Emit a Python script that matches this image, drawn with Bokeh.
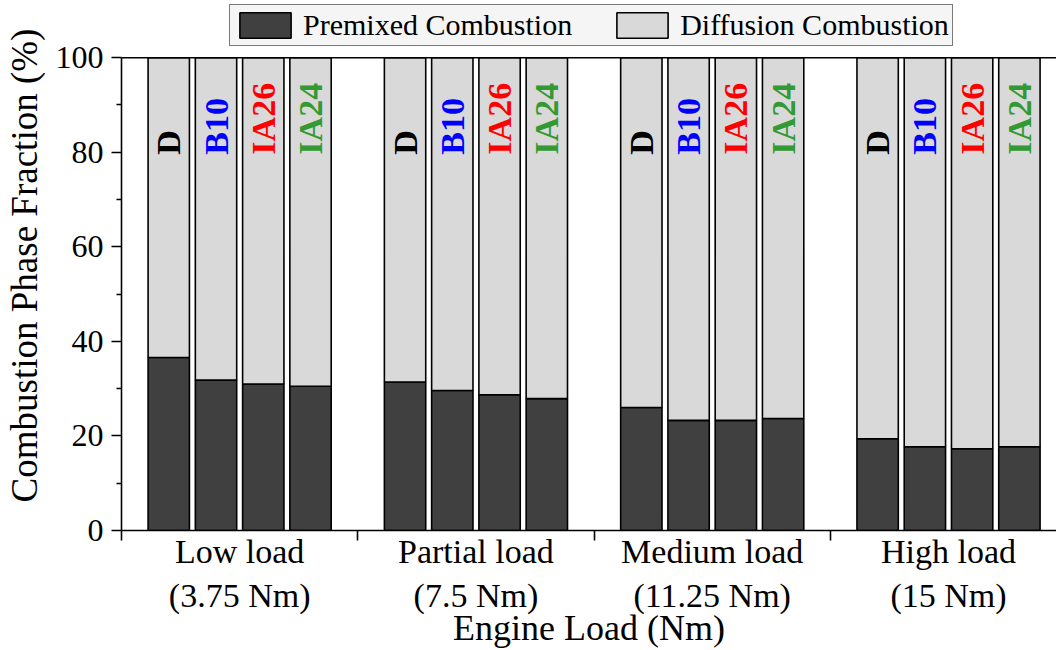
from bokeh.plotting import figure
from bokeh.models import (ColumnDataSource, FixedTicker, Legend, LegendItem, Span, Range1d)
from bokeh.core.properties import value
from bokeh.embed import file_html
from bokeh.resources import INLINE

# ---- data ----
loads = ["Low load\n(3.75 Nm)", "Partial load\n(7.5 Nm)", "Medium load\n(11.25 Nm)", "High load\n(15 Nm)"]
fuels = ["D", "B10", "IA26", "IA24"]
fuel_colors = ["#000000", "#0000ff", "#ff0000", "#339933"]
premixed = {
    "D":    [36.6, 31.4, 26.0, 19.4],
    "B10":  [31.8, 29.6, 23.3, 17.7],
    "IA26": [31.0, 28.7, 23.3, 17.3],
    "IA24": [30.5, 27.9, 23.7, 17.7],
}
diffusion = {
    "D":    [63.4, 68.6, 74.0, 80.6],
    "B10":  [68.2, 70.4, 76.7, 82.3],
    "IA26": [69.0, 71.3, 76.7, 82.7],
    "IA24": [69.5, 72.1, 76.3, 82.3],
}
label_level = 79.5
yticks = [0, 20, 40, 60, 80, 100]
yminor = [10, 30, 50, 70, 90]

FONT = "Liberation Serif"
DARK = "#404040"
LIGHT = "#d9d9d9"

group_pos = [1, 2, 3, 4]
offsets = [-0.3, -0.1, 0.1, 0.3]
bar_w = 0.175

p = figure(width=1056, height=650, output_backend="svg", toolbar_location=None,
           x_range=Range1d(0.5, 4.457), y_range=Range1d(0, 112.1),
           min_border_left=10, min_border_right=0, min_border_top=0, min_border_bottom=10)
p.grid.visible = False
p.outline_line_color = None
p.background_fill_color = "white"
p.border_fill_color = "white"

r_pre = r_dif = None
for fuel, off, col in zip(fuels, offsets, fuel_colors):
    xs = [g + off for g in group_pos]
    src = ColumnDataSource(dict(x=xs, pre=premixed[fuel], dif=diffusion[fuel],
                                lab=[fuel] * len(xs), ly=[label_level] * len(xs)))
    rs = p.vbar_stack(["pre", "dif"], x="x", width=bar_w, source=src,
                      fill_color=[DARK, LIGHT], line_color="black", line_width=1.6)
    r_pre, r_dif = rs
    p.text(x="x", y="ly", text="lab", source=src, angle=1.5708,
           text_font=value(FONT), text_font_style="bold", text_font_size="34px",
           text_color=col, text_align="left", text_baseline="middle")

# top frame line
p.add_layout(Span(location=100, dimension="width", line_color="black", line_width=1.6))

# y axis
ya = p.yaxis[0]
ya.bounds = (0, 100)
ya.ticker = FixedTicker(ticks=yticks, minor_ticks=yminor)
ya.axis_label = "Combustion Phase Fraction (%)"
ya.axis_label_text_font = FONT
ya.axis_label_text_font_style = "normal"
ya.axis_label_text_font_size = "37px"
ya.axis_label_text_color = "black"
ya.axis_label_standoff = 8
ya.major_label_text_font = FONT
ya.major_label_text_font_size = "32px"
ya.major_label_text_color = "black"
ya.major_label_standoff = 8
ya.major_tick_out = 10
ya.major_tick_in = 0
ya.minor_tick_out = 5
ya.minor_tick_in = 0
ya.axis_line_width = 1.6
ya.major_tick_line_width = 1.6
ya.minor_tick_line_width = 1.6

# x axis
xa = p.xaxis[0]
xa.ticker = FixedTicker(ticks=group_pos, minor_ticks=[0.5, 1.5, 2.5, 3.5])
xa.major_label_overrides = {g: lab for g, lab in zip(group_pos, loads)}
xa.axis_label = "Engine Load (Nm)"
xa.axis_label_text_font = FONT
xa.axis_label_text_font_style = "normal"
xa.axis_label_text_font_size = "36px"
xa.axis_label_text_color = "black"
xa.axis_label_standoff = -9
xa.major_label_text_font = FONT
xa.major_label_text_font_size = "34px"
xa.major_label_text_color = "black"
xa.major_label_standoff = -8
xa.major_tick_out = 0
xa.major_tick_in = 0
xa.minor_tick_out = 10
xa.minor_tick_in = 0
xa.axis_line_width = 1.6
xa.minor_tick_line_width = 1.6

legend = Legend(items=[LegendItem(label="Premixed Combustion", renderers=[r_pre]),
                       LegendItem(label="Diffusion Combustion", renderers=[r_dif])],
                orientation="horizontal", location=(108, 484),
                label_text_font=FONT, label_text_font_size="30px", label_text_color="black",
                glyph_width=64, glyph_height=32, label_standoff=6, spacing=38,
                padding=3, margin=0,
                background_fill_color="#f5f5f5", background_fill_alpha=1.0,
                border_line_color="black", border_line_width=1.5)
p.add_layout(legend)

open("out.html", "w").write(file_html(p, INLINE))
